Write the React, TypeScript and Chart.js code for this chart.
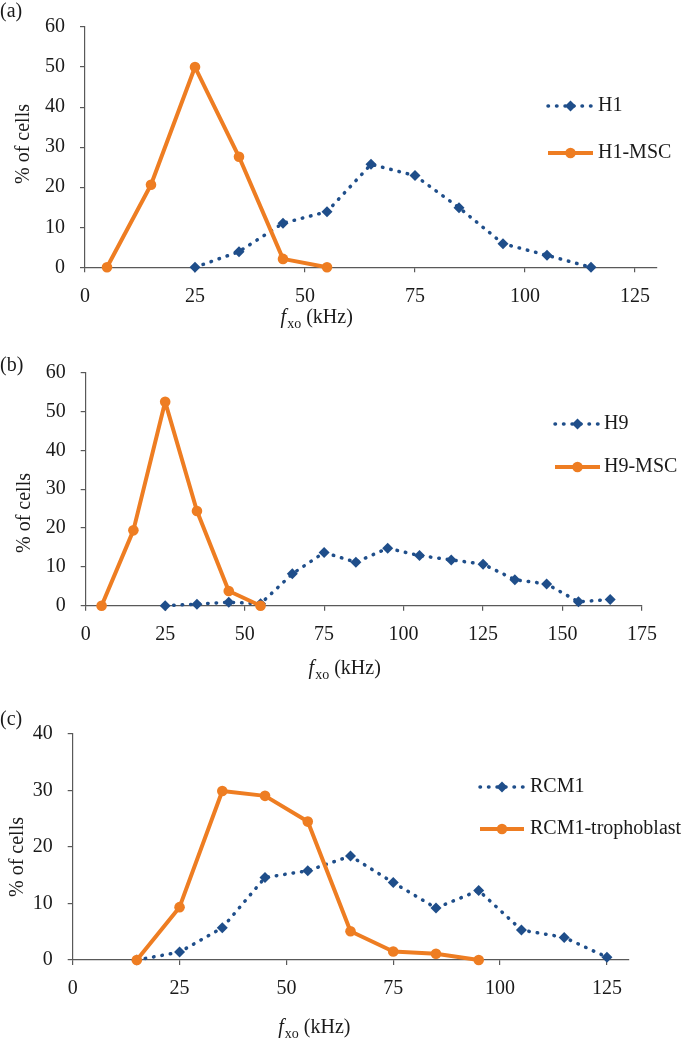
import React, { useEffect, useRef } from 'react';
import { Chart, registerables } from 'chart.js';

Chart.register(...registerables);

const FONT = '"Liberation Serif", Tinos, "Times New Roman", serif';
const BLUE = '#1F4E8A';
const ORANGE = '#EE7D22';
const AXIS = '#595959';
const TEXT = '#1a1a1a';

const Y_TITLE = '% of cells';

// ---------- Panel (a) ----------
const aTag = '(a)';
const aXTicks = [0, 25, 50, 75, 100, 125];
const aYTicks = [0, 10, 20, 30, 40, 50, 60];
const aH1Bins = [25, 35, 45, 55, 65, 75, 85, 95, 105, 115];
const aH1 = [0, 3.9, 11.0, 13.9, 25.7, 22.9, 14.9, 5.9, 3.0, 0];
const aMscBins = [5, 15, 25, 35, 45, 55];
const aMsc = [0, 20.6, 50, 27.6, 2.1, 0];
const aNames = ['H1', 'H1-MSC'];

// ---------- Panel (b) ----------
const bTag = '(b)';
const bXTicks = [0, 25, 50, 75, 100, 125, 150, 175];
const bYTicks = [0, 10, 20, 30, 40, 50, 60];
const bH9Bins = [25, 35, 45, 55, 65, 75, 85, 95, 105, 115, 125, 135, 145, 155, 165];
const bH9 = [0, 0.4, 0.9, 0.5, 8.2, 13.7, 11.2, 14.8, 12.9, 11.8, 10.7, 6.7, 5.6, 1.0, 1.6];
const bMscBins = [5, 15, 25, 35, 45, 55];
const bMsc = [0, 19.4, 52.5, 24.4, 3.8, 0];
const bNames = ['H9', 'H9-MSC'];

// ---------- Panel (c) ----------
const cTag = '(c)';
const cXTicks = [0, 25, 50, 75, 100, 125];
const cYTicks = [0, 10, 20, 30, 40];
const cRcmBins = [15, 25, 35, 45, 55, 65, 75, 85, 95, 105, 115, 125];
const cRcm = [0, 1.4, 5.7, 14.6, 15.8, 18.4, 13.7, 9.2, 12.3, 5.3, 4.0, 0.5];
const cTroBins = [15, 25, 35, 45, 55, 65, 75, 85, 95];
const cTro = [0, 9.35, 29.9, 29.05, 24.5, 5.1, 1.5, 1.1, 0];
const cNames = ['RCM1', 'RCM1-trophoblast'];

type Kind = 'blue' | 'orange';

interface Series { name: string; xs: number[]; ys: number[]; kind: Kind; }

interface PanelSpec {
  top: number;
  height: number;
  xMax: number;
  yMax: number;
  xTicks: number[];
  yTicks: number[];
  series: Series[];
  plotLeft: number;
  plotRight: number;
  plotTop: number;
  plotBottom: number;
  tag: string;
  tagY: number;
  yTitleX: number;
  yTitleY: number;
  xTitleX: number;
  xTitleY: number;
  legendYs: number[];
  legendX0: number;
  legendX1: number;
  legendTX: number;
}

const W = 686;

function drawDiamond(ctx: CanvasRenderingContext2D, x: number, y: number, r: number) {
  ctx.beginPath();
  ctx.moveTo(x, y - r);
  ctx.lineTo(x + r, y);
  ctx.lineTo(x, y + r);
  ctx.lineTo(x - r, y);
  ctx.closePath();
  ctx.fill();
}

const panelText = {
  id: 'panelText',
  afterDraw(chart: any, _args: any, opts: any) {
    const spec: PanelSpec = opts.spec;
    if (!spec) return;
    const ctx: CanvasRenderingContext2D = chart.ctx;
    ctx.save();
    ctx.fillStyle = TEXT;
    ctx.font = `20px ${FONT}`;
    ctx.textBaseline = 'middle';
    ctx.textAlign = 'left';
    ctx.fillText(spec.tag, 0, spec.tagY);

    ctx.save();
    ctx.translate(spec.yTitleX, spec.yTitleY);
    ctx.rotate(-Math.PI / 2);
    ctx.textAlign = 'center';
    ctx.fillText(Y_TITLE, 0, 0);
    ctx.restore();

    ctx.textBaseline = 'alphabetic';
    ctx.textAlign = 'left';
    let x = spec.xTitleX;
    const by = spec.xTitleY;
    ctx.font = `italic 20px ${FONT}`;
    ctx.fillText('f', x, by);
    x += ctx.measureText('f').width + 1;
    ctx.font = `14px ${FONT}`;
    ctx.fillText('xo', x, by + 5);
    x += ctx.measureText('xo').width;
    ctx.font = `20px ${FONT}`;
    ctx.fillText(' (kHz)', x, by);

    spec.series.forEach((s, i) => {
      const y = spec.legendYs[i];
      const mid = (spec.legendX0 + spec.legendX1) / 2;
      ctx.save();
      ctx.beginPath();
      if (s.kind === 'blue') {
        ctx.strokeStyle = BLUE;
        ctx.lineWidth = 3.5;
        ctx.lineCap = 'round';
        ctx.setLineDash([0.5, 8]);
      } else {
        ctx.strokeStyle = ORANGE;
        ctx.lineWidth = 4;
        ctx.lineCap = 'butt';
      }
      ctx.moveTo(spec.legendX0, y);
      ctx.lineTo(spec.legendX1, y);
      ctx.stroke();
      ctx.setLineDash([]);
      if (s.kind === 'blue') {
        ctx.fillStyle = BLUE;
        drawDiamond(ctx, mid, y, 5.5);
      } else {
        ctx.fillStyle = ORANGE;
        ctx.beginPath();
        ctx.arc(mid, y, 5.3, 0, Math.PI * 2);
        ctx.fill();
      }
      ctx.restore();
      ctx.fillStyle = TEXT;
      ctx.font = `20px ${FONT}`;
      ctx.textBaseline = 'middle';
      ctx.fillText(s.name, spec.legendTX, y);
    });
    ctx.restore();
  },
};

function makeDataset(s: Series) {
  const blue = s.kind === 'blue';
  return {
    label: s.name,
    data: s.xs.map((x, i) => ({ x, y: s.ys[i] })),
    borderColor: blue ? BLUE : ORANGE,
    backgroundColor: blue ? BLUE : ORANGE,
    borderWidth: blue ? 3.5 : 4,
    borderDash: blue ? [0.5, 8] : [],
    borderCapStyle: blue ? 'round' : 'butt',
    borderJoinStyle: 'round',
    pointStyle: blue ? 'rectRot' : 'circle',
    pointRadius: blue ? 5.5 : 5.3,
    pointBorderWidth: 0,
    pointBackgroundColor: blue ? BLUE : ORANGE,
    tension: 0,
    clip: false,
    order: blue ? 2 : 1,
  };
}

function Panel({ spec }: { spec: PanelSpec }) {
  const ref = useRef<HTMLCanvasElement | null>(null);
  useEffect(() => {
    if (!ref.current) return;
    const tickFont = { family: FONT, size: 20 };
    const grid = { drawOnChartArea: false, drawTicks: true, tickLength: 5, color: AXIS, lineWidth: 1.2 };
    const border = { display: true, color: AXIS, width: 1.2 };
    const chart = new Chart(ref.current, {
      type: 'line',
      data: { datasets: spec.series.map(makeDataset) as any },
      plugins: [panelText as any],
      options: {
        responsive: false,
        maintainAspectRatio: false,
        animation: false,
        layout: { padding: { left: 0, right: W - spec.plotRight, top: spec.plotTop, bottom: 0 } },
        plugins: {
          legend: { display: false },
          tooltip: { enabled: false },
          panelText: { spec },
        } as any,
        scales: {
          x: {
            type: 'linear',
            min: 0,
            max: spec.xMax,
            afterBuildTicks: (s: any) => { s.ticks = spec.xTicks.map((v) => ({ value: v })); },
            afterFit: (s: any) => { s.height = spec.height - spec.plotBottom; },
            ticks: { font: tickFont, color: TEXT, padding: 12, maxRotation: 0, autoSkip: false },
            grid,
            border,
          },
          y: {
            type: 'linear',
            min: 0,
            max: spec.yMax,
            afterBuildTicks: (s: any) => { s.ticks = spec.yTicks.map((v) => ({ value: v })); },
            afterFit: (s: any) => { s.width = spec.plotLeft; },
            ticks: { font: tickFont, color: TEXT, padding: 15 },
            grid,
            border,
          },
        } as any,
      },
    });
    return () => { chart.destroy(); };
  }, [spec]);
  return (
    <canvas
      ref={ref}
      width={W}
      height={spec.height}
      style={{ position: 'absolute', left: 0, top: spec.top, width: W, height: spec.height }}
    />
  );
}

const specA: PanelSpec = {
  top: 0, height: 335, xMax: 130, yMax: 60, xTicks: aXTicks, yTicks: aYTicks,
  series: [
    { name: aNames[0], xs: aH1Bins, ys: aH1, kind: 'blue' },
    { name: aNames[1], xs: aMscBins, ys: aMsc, kind: 'orange' },
  ],
  plotLeft: 85, plotRight: 657, plotTop: 20.7, plotBottom: 267.3,
  tag: aTag, tagY: 12, yTitleX: 24, yTitleY: 144, xTitleX: 280.6, xTitleY: 323,
  legendYs: [106, 153], legendX0: 548, legendX1: 593, legendTX: 598,
};

const specB: PanelSpec = {
  top: 335, height: 345, xMax: 175, yMax: 60, xTicks: bXTicks, yTicks: bYTicks,
  series: [
    { name: bNames[0], xs: bH9Bins, ys: bH9, kind: 'blue' },
    { name: bNames[1], xs: bMscBins, ys: bMsc, kind: 'orange' },
  ],
  plotLeft: 85.7, plotRight: 642, plotTop: 37.7, plotBottom: 270.7,
  tag: bTag, tagY: 30.5, yTitleX: 25, yTitleY: 178, xTitleX: 308.6, xTitleY: 339,
  legendYs: [89, 132], legendX0: 555, legendX1: 600, legendTX: 604,
};

const specC: PanelSpec = {
  top: 680, height: 360, xMax: 130, yMax: 40, xTicks: cXTicks, yTicks: cYTicks,
  series: [
    { name: cNames[0], xs: cRcmBins, ys: cRcm, kind: 'blue' },
    { name: cNames[1], xs: cTroBins, ys: cTro, kind: 'orange' },
  ],
  plotLeft: 72.7, plotRight: 628.3, plotTop: 54, plotBottom: 280,
  tag: cTag, tagY: 40, yTitleX: 18, yTitleY: 177, xTitleX: 278.3, xTitleY: 353,
  legendYs: [107, 149], legendX0: 480, legendX1: 524, legendTX: 530,
};

export default function App() {
  return (
    <div style={{ position: 'absolute', left: 0, top: 0, width: W, height: 1040, background: '#fff' }}>
      <Panel spec={specA} />
      <Panel spec={specB} />
      <Panel spec={specC} />
    </div>
  );
}
